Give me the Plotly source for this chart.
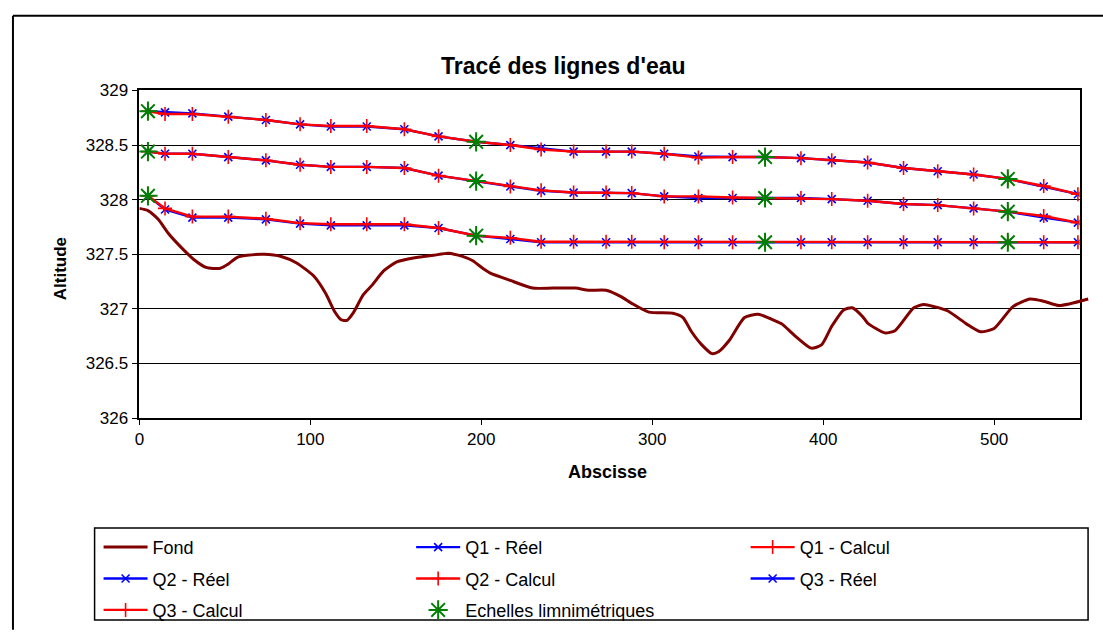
import plotly.graph_objects as go

# ---- data -----------------------------------------------------------------
# measurement stations (abscissa, m)
abscisses = [5, 15, 31, 52, 74, 94, 112, 133, 155, 175, 197, 217, 235, 254, 273,
             288, 307, 327, 347, 366, 387, 405, 426, 447, 467, 488, 508, 529, 549]

q1_reel = [328.81, 328.80, 328.79, 328.76, 328.73, 328.69, 328.67, 328.67, 328.645,
           328.58, 328.53, 328.50, 328.47, 328.44, 328.44, 328.44, 328.42, 328.395,
           328.39, 328.39, 328.38, 328.36, 328.34, 328.29, 328.26, 328.23, 328.19,
           328.12, 328.05]
q1_calcul = [328.81, 328.785, 328.785, 328.76, 328.73, 328.69, 328.675, 328.675, 328.645,
             328.58, 328.53, 328.50, 328.46, 328.44, 328.44, 328.44, 328.42, 328.385,
             328.39, 328.39, 328.38, 328.36, 328.34, 328.29, 328.26, 328.23, 328.19,
             328.125, 328.05]

q2_reel = [328.44, 328.42, 328.42, 328.39, 328.36, 328.32, 328.30, 328.30, 328.29,
           328.22, 328.17, 328.12, 328.08, 328.065, 328.065, 328.06, 328.03, 328.015,
           328.015, 328.015, 328.015, 328.005, 327.99, 327.96, 327.95, 327.92, 327.89,
           327.835, 327.79]
q2_calcul = [328.44, 328.42, 328.42, 328.39, 328.36, 328.32, 328.30, 328.30, 328.29,
             328.22, 328.17, 328.12, 328.085, 328.065, 328.065, 328.06, 328.03, 328.03,
             328.02, 328.015, 328.015, 328.005, 327.99, 327.96, 327.95, 327.92, 327.89,
             327.85, 327.79]

q3_reel = [328.035, 327.91, 327.835, 327.835, 327.82, 327.78, 327.765, 327.765, 327.765,
           327.74, 327.67, 327.64, 327.61, 327.61, 327.61, 327.61, 327.61, 327.61,
           327.61, 327.61, 327.61, 327.61, 327.61, 327.61, 327.61, 327.61, 327.61,
           327.61, 327.61]
q3_calcul = [328.035, 327.92, 327.845, 327.845, 327.825, 327.785, 327.775, 327.775, 327.775,
             327.74, 327.67, 327.65, 327.615, 327.615, 327.615, 327.615, 327.61, 327.61,
             327.61, 327.61, 327.61, 327.61, 327.61, 327.61, 327.61, 327.61, 327.61,
             327.61, 327.61]

# staff gauges (échelles limnimétriques)
echelles_x = [5, 5, 5, 197, 197, 197, 366, 366, 366, 508, 508, 508]
echelles_y = [328.81, 328.44, 328.035, 328.53, 328.17, 327.67,
              328.39, 328.015, 327.61, 328.19, 327.89, 327.61]

# river bed profile
fond_x = [0, 5, 11, 17, 24, 32, 39, 47, 52, 57, 63, 73, 83, 92, 102, 109, 114, 118,
          121.5, 125, 131, 136, 143, 150.6, 162, 172, 180.7, 189, 195, 201, 205, 217,
          230, 242, 255, 263, 273, 282, 288, 298, 312, 318, 323, 329, 335, 339, 345,
          354, 362, 372, 376, 383, 393, 399, 405, 412, 417, 423, 426, 436, 442, 453,
          459, 465, 473, 484, 492, 500, 511, 521, 529, 538, 555]
fond_y = [327.92, 327.90, 327.82, 327.69, 327.57, 327.45, 327.38, 327.37, 327.41,
          327.47, 327.49, 327.50, 327.48, 327.42, 327.30, 327.14, 326.98, 326.90,
          326.895, 326.96, 327.13, 327.215, 327.35, 327.43, 327.47, 327.49, 327.51,
          327.48, 327.44, 327.37, 327.33, 327.26, 327.19, 327.19, 327.19, 327.17,
          327.17, 327.11, 327.05, 326.97, 326.96, 326.92, 326.79, 326.67, 326.59,
          326.61, 326.71, 326.92, 326.95, 326.89, 326.86, 326.76, 326.64, 326.67,
          326.84, 326.99, 327.01, 326.93, 326.87, 326.78, 326.80, 327.01, 327.04,
          327.02, 326.98, 326.86, 326.79, 326.82, 327.02, 327.09, 327.07, 327.03,
          327.09]

x_ticks = [0, 100, 200, 300, 400, 500]
y_ticks = [326, 326.5, 327, 327.5, 328, 328.5, 329]
y_tick_text = ["326", "326.5", "327", "327.5", "328", "328.5", "329"]

# ---- geometry (pixels) ----------------------------------------------------
W, H = 1103, 632
PL, PR, PT, PB = 135, 1079.5, 84, 421.7
X_MAX = 550
Y_MIN, Y_MAX = 326, 329


def fx(px):
    return px / W


def fy(py):
    return 1 - py / H


FONT = "Liberation Sans, Arial, sans-serif"
BLUE = "#0000FF"
RED = "#FF0000"
GREEN = "#008000"
BED = "#800000"
TICK_SIZE = 17
LEGEND_SIZE = 18

fig = go.Figure()

# bed profile is drawn on its own overlay, a little wider than the plot frame
bed_right_px = 1092
bed_xmax = X_MAX * (bed_right_px - PL) / (PR - PL)
fig.add_trace(go.Scatter(
    x=fond_x, y=fond_y, name="Fond", mode="lines",
    line=dict(color=BED, width=3, shape="spline", smoothing=0.6),
    xaxis="x2", yaxis="y2", legend="legend", legendgroup="fond",
))


def water_line(y, name, real, leg, grp):
    if real:
        return go.Scatter(
            x=abscisses, y=y, name=name, mode="lines+markers",
            line=dict(color=BLUE, width=2.4),
            marker=dict(symbol="x-thin-open", size=8, color=BLUE,
                        line=dict(color=BLUE, width=1.6)),
            legend=leg, legendgroup=grp,
        )
    return go.Scatter(
        x=abscisses, y=y, name=name, mode="lines+markers",
        line=dict(color=RED, width=2.4),
        marker=dict(symbol="cross-thin-open", size=10, color=RED,
                    line=dict(color=RED, width=1.6)),
        legend=leg, legendgroup=grp,
    )


fig.add_trace(water_line(q1_reel, "Q1 - Réel", True, "legend2", "q1r"))
fig.add_trace(water_line(q1_calcul, "Q1 - Calcul", False, "legend3", "q1c"))
fig.add_trace(water_line(q2_reel, "Q2 - Réel", True, "legend", "q2r"))
fig.add_trace(water_line(q2_calcul, "Q2 - Calcul", False, "legend2", "q2c"))
fig.add_trace(water_line(q3_reel, "Q3 - Réel", True, "legend3", "q3r"))
fig.add_trace(water_line(q3_calcul, "Q3 - Calcul", False, "legend", "q3c"))

fig.add_trace(go.Scatter(
    x=echelles_x, y=echelles_y, name="Echelles limnimétriques", mode="markers",
    marker=dict(symbol="asterisk-open", size=16, color=GREEN,
                line=dict(color=GREEN, width=2)),
    legend="legend2", legendgroup="ech",
))

legend_common = dict(
    orientation="v", xanchor="left", yanchor="top",
    bgcolor="rgba(0,0,0,0)", borderwidth=0,
    font=dict(family=FONT, size=LEGEND_SIZE, color="black"),
    tracegroupgap=5, itemwidth=44, traceorder="grouped",
)

fig.update_layout(
    width=W, height=H,
    margin=dict(l=0, r=0, t=0, b=0),
    paper_bgcolor="white", plot_bgcolor="rgba(0,0,0,0)",
    showlegend=True,
    font=dict(family=FONT, size=TICK_SIZE, color="black"),
    xaxis=dict(
        domain=[fx(PL), fx(PR)], range=[0, X_MAX],
        tickvals=x_ticks, ticks="outside", ticklen=5, tickcolor="black",
        showline=True, linecolor="black", linewidth=1.5, mirror=True,
        showgrid=False, zeroline=False,
        tickfont=dict(family=FONT, size=TICK_SIZE, color="black"),
        anchor="y", fixedrange=True,
    ),
    yaxis=dict(
        domain=[fy(PB), fy(PT)], range=[Y_MIN, Y_MAX],
        tickvals=y_ticks, ticktext=y_tick_text,
        ticks="outside", ticklen=6, tickcolor="black",
        showline=True, linecolor="black", linewidth=1.5, mirror=True,
        showgrid=True, gridcolor="black", gridwidth=1.4, zeroline=False,
        tickfont=dict(family=FONT, size=TICK_SIZE, color="black"),
        anchor="x", fixedrange=True,
    ),
    xaxis2=dict(domain=[fx(PL), fx(bed_right_px)], range=[0, bed_xmax],
                visible=False, anchor="y2", fixedrange=True),
    yaxis2=dict(domain=[fy(PB), fy(PT)], range=[Y_MIN, Y_MAX],
                visible=False, anchor="x2", fixedrange=True),
    legend=dict(x=fx(94), y=fy(536), **legend_common),
    legend2=dict(x=fx(408), y=fy(536), **legend_common),
    legend3=dict(x=fx(744), y=fy(536), **legend_common),
)

# chart title and axis titles
fig.add_annotation(text="<b>Tracé des lignes d'eau</b>", x=fx(561), y=fy(43),
                   xref="paper", yref="paper", showarrow=False,
                   font=dict(family=FONT, size=23, color="black"))
fig.add_annotation(text="<b>Abscisse</b>", x=fx(605), y=fy(490),
                   xref="paper", yref="paper", showarrow=False,
                   font=dict(family=FONT, size=18, color="black"))
fig.add_annotation(text="<b>Altitude</b>", x=fx(45), y=fy(268), textangle=-90,
                   xref="paper", yref="paper", showarrow=False,
                   font=dict(family=FONT, size=17, color="black"))

# outer chart frame and legend box
fig.add_shape(type="line", xref="paper", yref="paper",
              x0=fx(8), x1=fx(8), y0=fy(7), y1=fy(640),
              line=dict(color="black", width=2))
fig.add_shape(type="line", xref="paper", yref="paper",
              x0=fx(8), x1=fx(1110), y0=fy(7), y1=fy(7),
              line=dict(color="black", width=2))
fig.add_shape(type="rect", xref="paper", yref="paper",
              x0=fx(90), x1=fx(1088), y0=fy(535), y1=fy(630),
              line=dict(color="black", width=1.5), fillcolor="rgba(0,0,0,0)")

fig.write_html("out.html")
